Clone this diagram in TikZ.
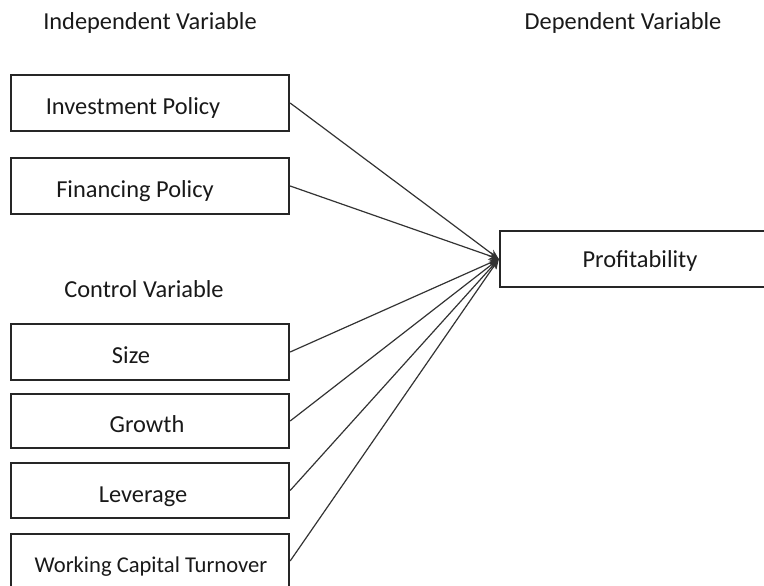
\documentclass[tikz,border=0pt]{standalone}
\usepackage{fontspec}
\setmainfont{Carlito}
\usetikzlibrary{arrows.meta}
\begin{document}
\begin{tikzpicture}[x=1pt,y=-1pt,
  varbox/.style={draw=black!85,line width=2.3pt,rectangle,inner sep=0pt,
    minimum width=278pt,minimum height=56pt},
  txt/.style={anchor=base,inner sep=0pt,text=black!90,
    font=\fontsize{24.4}{29}\selectfont},
  link/.style={draw=black!80,line width=1.2pt,-{Stealth[length=10pt,width=8pt]}}]
\useasboundingbox (0,0) rectangle (764,586);
\clip (0,0) rectangle (764,586);

% headings
\node[txt] (hind) at (150,30) {Independent Variable};
\node[txt] (hdep) at (623,30) {Dependent Variable};
\node[txt] (hctl) at (144,297) {Control Variable};

% independent variables
\node[varbox] (inv) at (150,103) {};
\node[txt] (invt) at (133,115) {Investment Policy};
\node[varbox] (fin) at (150,186) {};
\node[txt] (fint) at (135,197) {Financing Policy};

% control variables
\node[varbox] (size) at (150,352) {};
\node[txt] (sizet) at (131,363) {Size};
\node[varbox,minimum height=54pt] (grow) at (150,421) {};
\node[txt] (growt) at (147,432) {Growth};
\node[varbox,minimum height=55pt] (lev) at (150,490.5) {};
\node[txt] (levt) at (143,502) {Leverage};
\node[varbox] (wct) at (150,562) {};
\node[txt,font=\fontsize{22.6}{27}\selectfont] (wctt) at (151,572) {Working Capital Turnover};

% dependent variable, running past the right margin
\node[varbox,minimum width=320pt] (prof) at (660,259) {};
\node[txt] (proft) at (640,267) {Profitability};

% links into the dependent variable
\foreach \s in {inv,fin,size,grow,lev}
  \draw[link] (\s.east) -- (prof.west);
\draw[link] (wct.east |- 0,561) -- (prof.west);
\end{tikzpicture}
\end{document}
